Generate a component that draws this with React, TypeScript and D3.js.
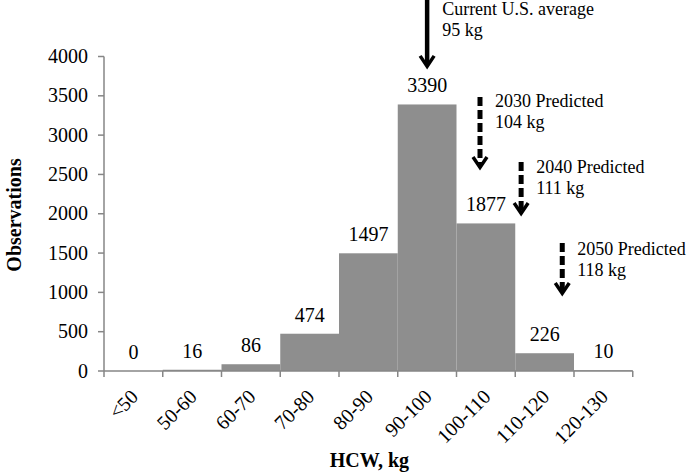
import React from "react";
import * as d3 from "d3";

const categories = ["<50", "50-60", "60-70", "70-80", "80-90", "90-100", "100-110", "110-120", "120-130"];
const counts = [0, 16, 86, 474, 1497, 3390, 1877, 226, 10];
const yTicks = [0, 500, 1000, 1500, 2000, 2500, 3000, 3500, 4000];

const markerTitles = ["Current U.S. average", "2030 Predicted", "2040 Predicted", "2050 Predicted"];
const markerSubs = ["95 kg", "104 kg", "111 kg", "118 kg"];
const markerKg = [95, 104, 111, 118];
const markerTop = [4750, 3486, 2659, 1628];
const markerTip = [3855, 2570, 1985, 967];
const markerLabelY = [4530, 3360, 2520, 1476];
const markerDashed = [false, true, true, true];

const W = 690;
const H = 476;
const x0 = 104;
const x1 = 632.75;
const yBottom = 371;
const yTop = 56.5;
const FONT = '"Liberation Serif", "Times New Roman", Times, serif';
const AXIS = "#868686";
const BAR = "#8e8e8e";

function T(props: {
  x: number;
  y: number;
  children: React.ReactNode;
  anchor?: "start" | "middle" | "end";
  bold?: boolean;
  rotate?: number;
  size?: number;
}) {
  const { x, y, children, anchor = "start", bold = false, rotate = 0, size = 20 } = props;
  return (
    <text
      transform={`translate(${x},${y}) rotate(${rotate})`}
      textAnchor={anchor}
      style={{ fontFamily: FONT, fontSize: size, fontWeight: bold ? 700 : 400 }}
      fill="#000"
    >
      {children}
    </text>
  );
}

export default function App() {
  const x = d3.scaleBand<string>().domain(categories).range([x0, x1]).padding(0);
  const y = d3.scaleLinear().domain([0, 4000]).range([yBottom, yTop]);
  const kg = d3.scaleLinear().domain([40, 130]).range([x0, x1]);

  return (
    <svg width={W} height={H} style={{ position: "absolute", left: 0, top: 0, background: "#fff" }}>
      <rect x={0} y={0} width={W} height={H} fill="#fff" />
      {categories.map((c, i) => (
        <rect key={c} x={x(c)!} y={y(counts[i])} width={x.bandwidth()} height={yBottom - y(counts[i])} fill={BAR} />
      ))}
      {categories.map((c, i) => (
        <T key={"v" + c} x={x(c)! + x.bandwidth() / 2} y={y(counts[i]) - 12} anchor="middle">
          {counts[i]}
        </T>
      ))}
      <line x1={x0} x2={x0} y1={yTop} y2={yBottom} stroke={AXIS} strokeWidth={1.5} />
      {yTicks.map((t) => (
        <g key={"yt" + t}>
          <line x1={x0 - 6} x2={x0} y1={y(t)} y2={y(t)} stroke={AXIS} strokeWidth={1.5} />
          <T x={x0 - 16} y={y(t) + 6.5} anchor="end">
            {t}
          </T>
        </g>
      ))}
      <line x1={x0} x2={x1} y1={yBottom} y2={yBottom} stroke={AXIS} strokeWidth={1.5} />
      {[...categories.map((c) => x(c)!), x1].map((px, i) => (
        <line key={"xt" + i} x1={px} x2={px} y1={yBottom} y2={yBottom + 6} stroke={AXIS} strokeWidth={1.5} />
      ))}
      {categories.map((c) => (
        <T key={"xl" + c} x={x(c)! + x.bandwidth() / 2 + 6} y={yBottom + 27} anchor="end" rotate={-45}>
          {c}
        </T>
      ))}
      <T x={21} y={215} anchor="middle" bold rotate={-90}>
        Observations
      </T>
      <T x={(x0 + x1) / 2 + 1} y={467} anchor="middle" bold>
        HCW, kg
      </T>
      {markerKg.map((k, i) => {
        const ax = kg(k);
        const top = y(markerTop[i]);
        const tip = y(markerTip[i]);
        const headH = 12;
        const headW = 7;
        return (
          <g key={"m" + i}>
            <line
              x1={ax}
              x2={ax}
              y1={top}
              y2={tip - 3}
              stroke="#000"
              strokeWidth={markerDashed[i] ? 5 : 4.5}
              strokeDasharray={markerDashed[i] ? "9,4" : undefined}
            />
            <path
              d={`M${ax - headW},${tip - headH} L${ax},${tip - 1.5} L${ax + headW},${tip - headH}`}
              fill="none"
              stroke="#000"
              strokeWidth={3.5}
            />
            <T x={ax + 15} y={y(markerLabelY[i])} size={18}>
              {markerTitles[i]}
            </T>
            <T x={ax + 15} y={y(markerLabelY[i]) + 21} size={18}>
              {markerSubs[i]}
            </T>
          </g>
        );
      })}
    </svg>
  );
}
